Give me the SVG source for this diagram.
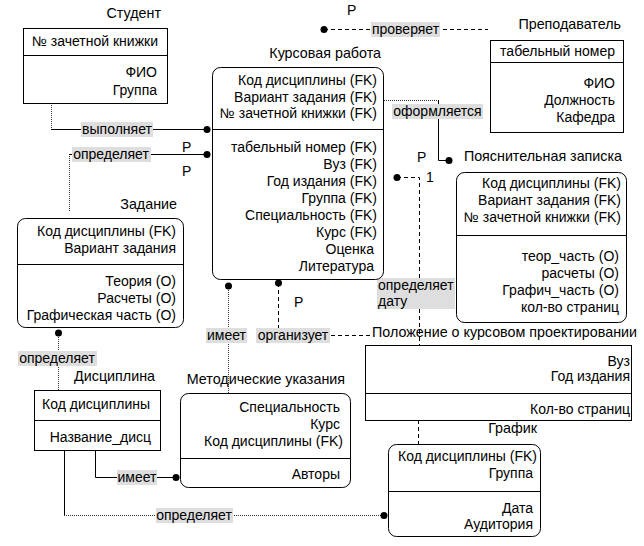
<svg xmlns="http://www.w3.org/2000/svg" width="644" height="546" viewBox="0 0 644 546">
<style>
text{font-family:"Liberation Sans",Arial,sans-serif;font-size:14px;fill:#000}
.t{font-size:14.3px}
.e{text-anchor:end}
.m{text-anchor:middle}
.box{fill:#fff;stroke:#000;stroke-width:1}
.div{stroke:#000;stroke-width:1}
.s{fill:none;stroke:#000;stroke-width:1}
.d{fill:none;stroke:#333;stroke-width:1;stroke-dasharray:1 1}
.k{fill:none;stroke:#000;stroke-width:1;stroke-dasharray:4 3}
.lb{fill:#dedede}
.dot{fill:#000}
</style>
<g id="connectors">
<path class="d" d="M51.5,103 V129.5"/>
<path class="s" d="M51,129.5 H207"/>
<path class="d" d="M69.5,211 V154.5"/>
<path class="s" d="M69,154.5 H207"/>
<path class="d" d="M58.5,333 V390"/>
<path class="s" d="M95.5,450 V477.5 H176"/>
<path class="s" d="M64.5,450 V515.5"/>
<path class="d" d="M64,515.5 H384"/>
<path class="d" d="M228.5,286 V393"/>
<path class="k" d="M278.5,283 V335.5 H370"/>
<path class="k" d="M324,29.5 H488"/>
<path class="d" d="M384,100.5 H438.5"/>
<path class="s" d="M438.5,100 V160.5 H449"/>
<path class="k" d="M397,177.5 H419.5 V345"/>
<path class="k" d="M418.5,420 V444"/>
<circle class="dot" cx="207" cy="129.5" r="3.5"/>
<circle class="dot" cx="207" cy="154.5" r="3.5"/>
<circle class="dot" cx="58.5" cy="333" r="3.5"/>
<circle class="dot" cx="176" cy="477.5" r="3.5"/>
<circle class="dot" cx="384" cy="515.5" r="3.5"/>
<circle class="dot" cx="228.5" cy="286" r="3.5"/>
<circle class="dot" cx="278.5" cy="283" r="3.5"/>
<circle class="dot" cx="324" cy="29.5" r="3.5"/>
<circle class="dot" cx="449" cy="160.5" r="3.5"/>
<circle class="dot" cx="397" cy="177.5" r="3.5"/>
<rect class="lb" x="81" y="122" width="72" height="15"/>
<text class="m" x="117" y="134">выполняет</text>
<rect class="lb" x="72" y="147" width="79" height="15"/>
<text class="m" x="111" y="159">определяет</text>
<rect class="lb" x="18" y="351" width="79" height="15"/>
<text class="m" x="57" y="363">определяет</text>
<rect class="lb" x="117" y="470" width="40" height="15"/>
<text class="m" x="137" y="482">имеет</text>
<rect class="lb" x="156" y="508" width="77" height="15"/>
<text class="m" x="194" y="520">определяет</text>
<rect class="lb" x="206" y="328" width="41" height="15"/>
<text class="m" x="226.5" y="340">имеет</text>
<rect class="lb" x="256" y="328" width="74" height="15"/>
<text class="m" x="293" y="340">организует</text>
<rect class="lb" x="371" y="22" width="69" height="15"/>
<text class="m" x="405.5" y="34">проверяет</text>
<rect class="lb" x="392" y="104" width="91" height="15"/>
<text class="m" x="437.5" y="116">оформляется</text>
<rect class="lb" x="377" y="278" width="78" height="31"/>
<text x="378" y="290">определяет</text>
<text x="378" y="306">дату</text>
<text x="182" y="152">P</text>
<text x="182" y="176">P</text>
<text x="294" y="307">P</text>
<text x="347" y="15">P</text>
<text x="417" y="162">P</text>
<text x="426" y="182">1</text>
</g>
<g id="student">
<rect class="box" x="23.5" y="28.5" width="144" height="75"/>
<line class="div" x1="23.5" y1="55.5" x2="167.5" y2="55.5"/>
<text class="e t" x="161" y="18">Студент</text>
<text class="e" x="158" y="46">№ зачетной книжки</text>
<text class="e" x="157" y="77">ФИО</text>
<text class="e" x="157" y="95">Группа</text>
</g>
<g id="kursovaya">
<rect class="box" x="212.5" y="67.5" width="171" height="212" rx="8"/>
<line class="div" x1="212.5" y1="129.5" x2="383.5" y2="129.5"/>
<text class="e t" x="381" y="58">Курсовая работа</text>
<text class="e" x="377" y="85">Код дисциплины (FK)</text>
<text class="e" x="377" y="102">Вариант задания (FK)</text>
<text class="e" x="377" y="118">№ зачетной книжки (FK)</text>
<text class="e" x="377" y="152">табельный номер (FK)</text>
<text class="e" x="377" y="169">Вуз (FK)</text>
<text class="e" x="377" y="186">Год издания (FK)</text>
<text class="e" x="377" y="203">Группа (FK)</text>
<text class="e" x="377" y="220">Специальность (FK)</text>
<text class="e" x="377" y="237">Курс (FK)</text>
<text class="e" x="374" y="254">Оценка</text>
<text class="e" x="374" y="271">Литература</text>
</g>
<g id="prepodavatel">
<rect class="box" x="490.5" y="40.5" width="133" height="92"/>
<line class="div" x1="490.5" y1="62.5" x2="623.5" y2="62.5"/>
<text class="e t" x="621" y="29">Преподаватель</text>
<text class="e" x="615" y="56">табельный номер</text>
<text class="e" x="615" y="88">ФИО</text>
<text class="e" x="615" y="105">Должность</text>
<text class="e" x="615" y="122">Кафедра</text>
</g>
<g id="zapiska">
<rect class="box" x="456.5" y="172.5" width="170" height="150" rx="8"/>
<line class="div" x1="456.5" y1="235.5" x2="626.5" y2="235.5"/>
<text class="e t" x="622" y="161">Пояснительная записка</text>
<text class="e" x="621" y="188">Код дисциплины (FK)</text>
<text class="e" x="621" y="205">Вариант задания (FK)</text>
<text class="e" x="621" y="222">№ зачетной книжки (FK)</text>
<text class="e" x="619" y="261">теор_часть (О)</text>
<text class="e" x="619" y="278">расчеты (О)</text>
<text class="e" x="619" y="295">Графич_часть (О)</text>
<text class="e" x="619" y="312">кол-во страниц</text>
</g>
<g id="zadanie">
<rect class="box" x="17.5" y="218.5" width="166" height="109" rx="8"/>
<line class="div" x1="17.5" y1="264.5" x2="183.5" y2="264.5"/>
<text class="e t" x="177" y="209">Задание</text>
<text class="e" x="176" y="236">Код дисциплины (FK)</text>
<text class="e" x="176" y="253">Вариант задания</text>
<text class="e" x="176" y="286">Теория (О)</text>
<text class="e" x="176" y="303">Расчеты (О)</text>
<text class="e" x="176" y="320">Графическая часть (О)</text>
</g>
<g id="disciplina">
<rect class="box" x="34.5" y="390.5" width="126" height="60"/>
<line class="div" x1="34.5" y1="420.5" x2="160.5" y2="420.5"/>
<text class="e t" x="155" y="381">Дисциплина</text>
<text class="e" x="150" y="409">Код дисциплины</text>
<text class="e" x="151" y="442">Название_дисц</text>
</g>
<g id="metod">
<rect class="box" x="180.5" y="393.5" width="170" height="94" rx="8"/>
<line class="div" x1="180.5" y1="458.5" x2="350.5" y2="458.5"/>
<text class="e t" x="345" y="384">Методические указания</text>
<text class="e" x="340" y="412">Специальность</text>
<text class="e" x="340" y="429">Курс</text>
<text class="e" x="343" y="446">Код дисциплины (FK)</text>
<text class="e" x="340" y="479">Авторы</text>
</g>
<g id="polozhenie">
<rect class="box" x="365.5" y="345.5" width="266" height="75"/>
<line class="div" x1="365.5" y1="393.5" x2="631.5" y2="393.5"/>
<text class="e t" x="637" y="337">Положение о курсовом проектировании</text>
<text class="e" x="630" y="366">Вуз</text>
<text class="e" x="630" y="381">Год издания</text>
<text class="e" x="630" y="414">Кол-во страниц</text>
</g>
<g id="grafik">
<rect class="box" x="388.5" y="444.5" width="152" height="92" rx="8"/>
<line class="div" x1="388.5" y1="491.5" x2="540.5" y2="491.5"/>
<text class="e t" x="537" y="433">График</text>
<text class="e" x="537" y="461">Код дисциплины (FK)</text>
<text class="e" x="533" y="478">Группа</text>
<text class="e" x="533" y="513">Дата</text>
<text class="e" x="533" y="529">Аудитория</text>
</g>
</svg>
